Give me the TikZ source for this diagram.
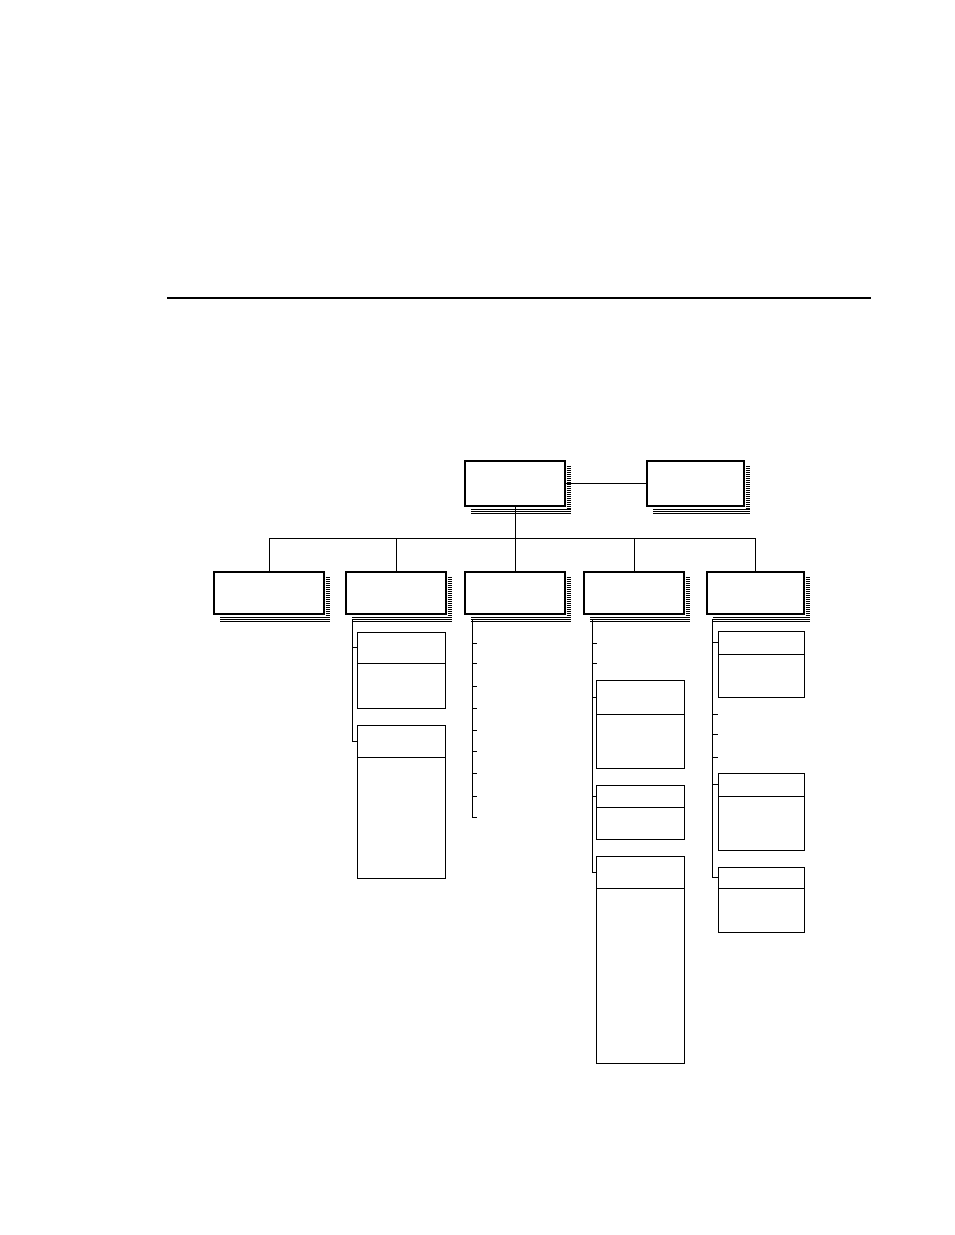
\documentclass[tikz,border=0pt]{standalone}
\usepackage{tikz}
\usetikzlibrary{calc}
\usetikzlibrary{positioning}
\tikzset{
	mainbox/.style = {draw, line width=1.8pt, inner sep=0pt, outer sep=0pt, minimum width=100pt},
	subbox/.style = {draw, line width=0.9pt, inner sep=0pt, outer sep=0pt, anchor=north},
	stripe/.style = {line width=0.7pt},
	tree/.style = {line width=0.9pt}
}
% striped shadow to the right of and below a box
\newcommand{\stripes}[2]{
	\foreach \k in {1,...,#2}{
		\draw [stripe] ($(#1.north east)+(1.5,3+2*\k)$) -- ++(4,0);
	}
	\foreach \k in {1,2,3}{
		\draw [stripe] ($(#1.south west)+(6,1.5+2*\k)$) -- ($(#1.south east)+(5.5,1.5+2*\k)$);
	}
}
% header and body of a sub box
\newcommand{\listbox}[6]{
	\node [subbox, minimum width=#4pt, minimum height=#5pt] (#1h) at (#2,#3) {};
	\node [subbox, minimum width=#4pt, minimum height=#6pt, below=0pt of #1h] (#1b) {};
}

\begin{document}
\begin{tikzpicture}[x=1pt, y=-1pt]
\useasboundingbox (0,0) rectangle (954,1235);
\draw [line width=2pt] (167,298) -- (871,298);

\node [mainbox, minimum height=45pt] (main) at (515,483.5) {};
\node [mainbox, minimum height=45pt, minimum width=97pt] (aux) at (695.5,483.5) {};
\stripes{main}{22}
\stripes{aux}{22}
\draw [tree] (main) -- (aux);

\node [mainbox, minimum height=42pt, minimum width=110pt] (catA) at (269,593) {};
\node [mainbox, minimum height=42pt] (catB) at (396,593) {};
\node [mainbox, minimum height=42pt] (catC) at (515,593) {};
\node [mainbox, minimum height=42pt] (catD) at (634,593) {};
\node [mainbox, minimum height=42pt, minimum width=97pt] (catE) at (755.5,593) {};
\foreach \c in {catA,catB,catC,catD,catE}{
	\stripes{\c}{21}
}

\coordinate (bus) at ($(main.south)+(0,32)$);
\draw [tree] (main.south) -- (bus);
\foreach \c in {catA,catB,catC,catD,catE}{
	\draw [tree] (\c.north) |- (bus);
}

% column B
\coordinate (tB) at ($(catB.south west)+(6,5)$);
\listbox{bA}{401}{632}{88}{31}{45}
\listbox{bB}{401}{725}{88}{32}{121}
\draw [tree] (tB) |- (bBh.west);
\draw [tree] (tB |- bAh.west) -- (bAh.west);

% column C
\coordinate (tC) at ($(catC.south west)+(7,5)$);
\draw [tree] (tC) |- ($(tC |- 0,817)+(5,0)$);
\foreach \y in {643,663,686,708,730,751,773,796}{
	\draw [tree] (tC |- 0,\y) -- ++(5,0);
}

% column D
\coordinate (tD) at ($(catD.south west)+(8,5)$);
\listbox{dA}{640}{680}{88}{34}{54}
\listbox{dB}{640}{785}{88}{22}{32}
\listbox{dC}{640}{856}{88}{32}{175}
\draw [tree] (tD) |- (dCh.west);
\foreach \s in {dAh,dBh}{
	\draw [tree] (tD |- \s.west) -- (\s.west);
}
\foreach \y in {643,663}{
	\draw [tree] (tD |- 0,\y) -- ++(5,0);
}

% column E
\coordinate (tE) at ($(catE.south west)+(5,5)$);
\listbox{eA}{761}{631}{86}{23}{43}
\listbox{eB}{761}{773}{86}{23}{54}
\listbox{eC}{761}{867}{86}{21}{44}
\draw [tree] (tE) |- (eCh.west);
\foreach \s in {eAh,eBh}{
	\draw [tree] (tE |- \s.west) -- (\s.west);
}
\foreach \y in {714,734,757}{
	\draw [tree] (tE |- 0,\y) -- ++(6,0);
}
\end{tikzpicture}
\end{document}
